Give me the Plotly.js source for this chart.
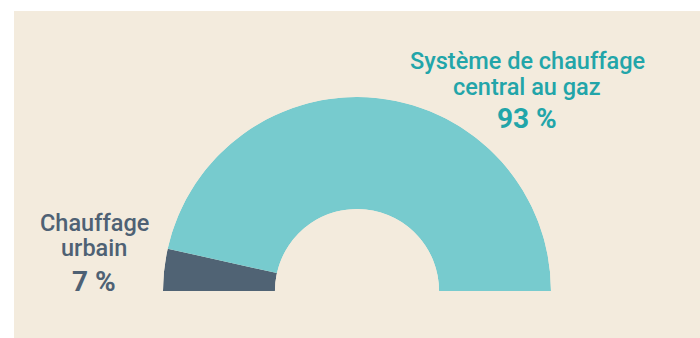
<!DOCTYPE html>
<html>
<head>
<meta charset="utf-8">
<script src="https://cdn.plot.ly/plotly-3.0.1.min.js"></script>
<style>
html,body{margin:0;padding:0;background:#ffffff;}
#chart{width:700px;height:338px;}
</style>
</head>
<body>
<div id="chart"></div>
<script>
// Data
const categories = ["Chauffage urbain", "Système de chauffage central au gaz"];
const labelLines = [["Chauffage", "urbain"], ["Système de chauffage", "central au gaz"]];
const shareValues = [7, 93];
const shareLabels = ["7 %", "93 %"];
const sliceColors = ["#506374", "#77cbce"];

// Convert percentages to angular positions on a half circle (180°)
const degPerPct = 180 / 100;
let cum = 0;
const thetas = [], widths = [];
shareValues.forEach(v => {
  thetas.push((cum + v / 2) * degPerPct);
  widths.push(v * degPerPct);
  cum += v;
});

const W = 700, H = 338;
const py = p => 1 - p / H;
const px = p => p / W;

const trace = {
  type: "barpolar",
  r: shareValues.map(() => 1),
  theta: thetas,
  width: widths,
  marker: { color: sliceColors, line: { width: 0 } },
  hoverinfo: "skip",
  showlegend: false
};

function ann(x, y, text, size, color, weight) {
  return {
    xref: "paper", yref: "paper", x: px(x), y: py(y),
    xanchor: "center", yanchor: "middle", showarrow: false, align: "center",
    text: text,
    font: { family: "Roboto", size: size, color: color, weight: weight }
  };
}

const teal = "#22a5a9", slate = "#4e6174";

const layout = {
  width: W, height: H,
  margin: { l: 0, r: 0, t: 0, b: 0 },
  paper_bgcolor: "#ffffff",
  showlegend: false,
  shapes: [{
    type: "rect", xref: "paper", yref: "paper", layer: "below",
    x0: px(14), x1: 1, y0: 0, y1: py(11),
    fillcolor: "#f3ebdd", line: { width: 0 }
  }],
  polar: {
    domain: { x: [px(163), px(551)], y: [py(291), py(97)] },
    sector: [0, 180],
    hole: 0.423,
    bgcolor: "rgba(0,0,0,0)",
    radialaxis: { range: [0, 1], visible: false, showgrid: false, showline: false, showticklabels: false, ticks: "" },
    angularaxis: {
      direction: "clockwise", rotation: 180,
      visible: false, showgrid: false, showline: false, showticklabels: false, ticks: ""
    },
    bargap: 0
  },
  annotations: [
    ann(527, 61, labelLines[1][0], 23.5, teal, 500),
    ann(527, 87, labelLines[1][1], 23.5, teal, 500),
    ann(527, 118, shareLabels[1], 28, teal, 700),
    ann(94, 223, labelLines[0][0], 23.5, slate, 500),
    ann(94, 248, labelLines[0][1], 23.5, slate, 500),
    ann(94, 281, shareLabels[0], 28, slate, 700)
  ]
};

Plotly.newPlot("chart", [trace], layout, { displayModeBar: false, staticPlot: true });
</script>
</body>
</html>
